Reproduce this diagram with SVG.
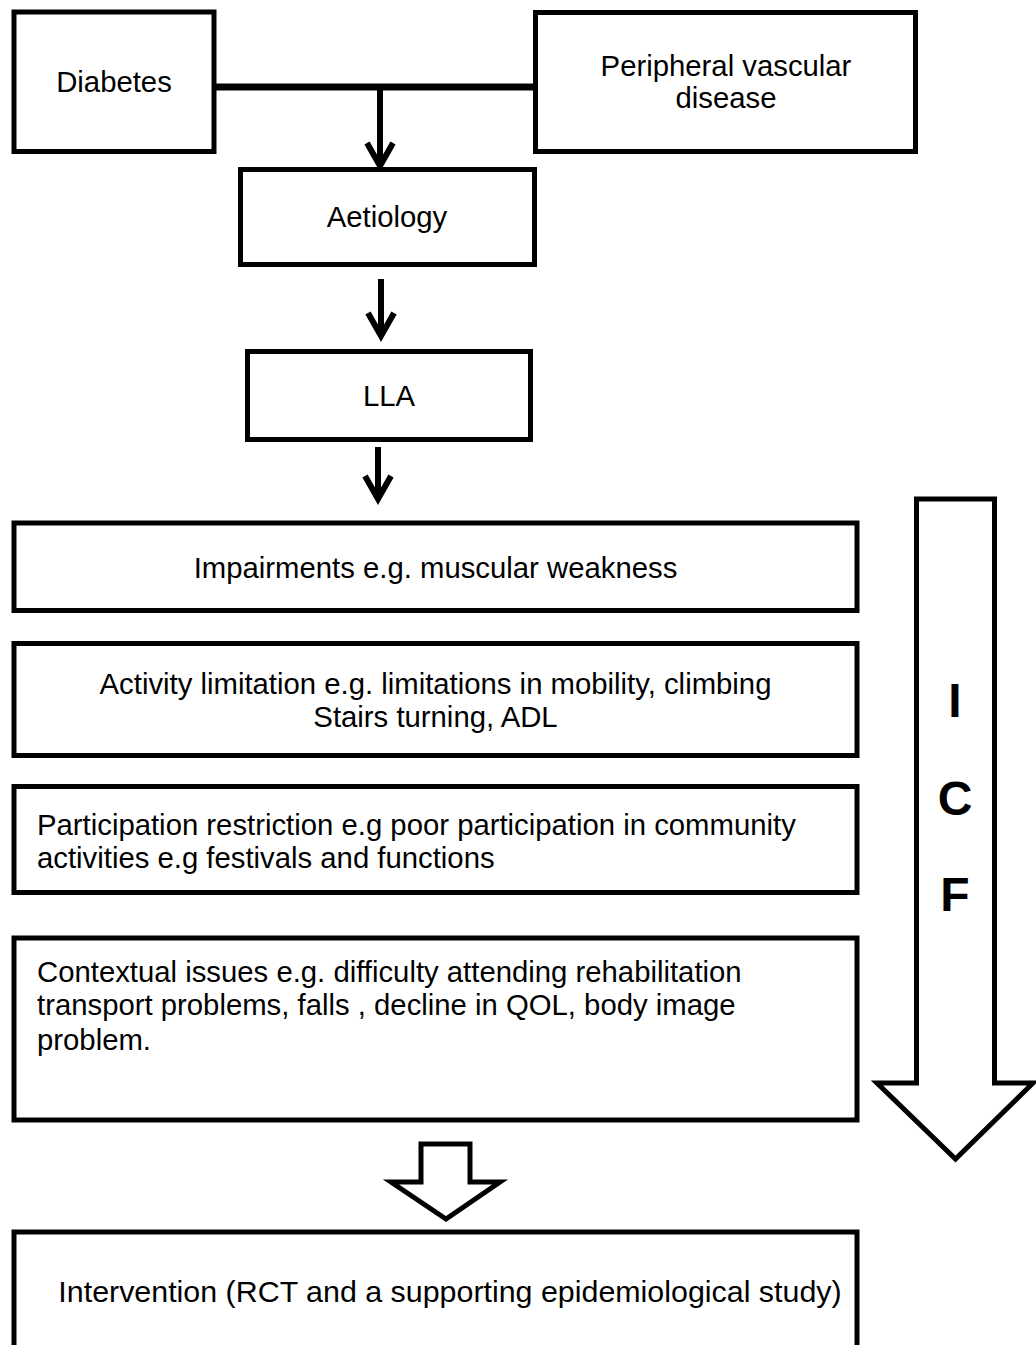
<svg xmlns="http://www.w3.org/2000/svg" width="1036" height="1345" viewBox="0 0 1036 1345">
<style>
.box{fill:#fff;stroke:#000;stroke-width:5}
.t{font-family:"Liberation Sans",Arial,sans-serif;font-size:29.3px;fill:#000}
.c{text-anchor:middle}
.big{font-family:"Liberation Sans",Arial,sans-serif;font-size:48px;font-weight:bold;fill:#000;text-anchor:middle}
.ln{stroke:#000;stroke-width:6;fill:none}
.hollow{fill:#fff;stroke:#000;stroke-width:5;stroke-linejoin:miter}
</style>
<rect width="1036" height="1345" fill="#fff"/>
<g id="connectors">
<line class="ln" x1="214" y1="87" x2="536" y2="87" style="stroke-width:7"/>
<line class="ln" x1="380" y1="87" x2="380" y2="164"/>
<polyline class="ln" points="367,143 380,166 393,143"/>
<line class="ln" x1="381" y1="279" x2="381" y2="335"/>
<polyline class="ln" points="368,313 381,336 394,313"/>
<line class="ln" x1="378" y1="447" x2="378" y2="497"/>
<polyline class="ln" points="365,476 378,499 391,476"/>
<polygon id="hollow-arrow" class="hollow" points="421,1144 470,1144 470,1182 500,1182 446,1219 391,1182 421,1182"/>
</g>
<g id="icf">
<polygon class="hollow" points="916.5,499 994.5,499 994.5,1083 1033,1083 955.5,1159 877,1083 916.5,1083"/>
<text class="big" x="955" y="717">I</text>
<text class="big" x="955" y="815">C</text>
<text class="big" x="955" y="911">F</text>
</g>
<g id="diabetes">
<rect class="box" x="14" y="12" width="200" height="139.5"/>
<text class="t c" x="114" y="92">Diabetes</text>
</g>
<g id="pvd">
<rect class="box" x="535.5" y="12.5" width="380" height="139"/>
<text class="t c" x="726" y="76">Peripheral vascular</text>
<text class="t c" x="726" y="108">disease</text>
</g>
<g id="aetiology">
<rect class="box" x="240.5" y="169.5" width="294" height="95"/>
<text class="t c" x="387" y="227">Aetiology</text>
</g>
<g id="lla">
<rect class="box" x="247.5" y="351.5" width="283" height="88"/>
<text class="t c" x="389" y="406">LLA</text>
</g>
<g id="impairments">
<rect class="box" x="14" y="523" width="843" height="87.5"/>
<text class="t c" x="435.5" y="578">Impairments e.g. muscular weakness</text>
</g>
<g id="activity">
<rect class="box" x="14" y="643.5" width="843" height="112"/>
<text class="t c" x="435.5" y="694">Activity limitation e.g. limitations in mobility, climbing</text>
<text class="t c" x="435.5" y="727">Stairs turning, ADL</text>
</g>
<g id="participation">
<rect class="box" x="14" y="786.5" width="843" height="106"/>
<text class="t" x="37" y="835">Participation restriction e.g poor participation in community</text>
<text class="t" x="37" y="868">activities e.g festivals and functions</text>
</g>
<g id="contextual">
<rect class="box" x="14" y="938" width="843" height="182"/>
<text class="t" x="37" y="982">Contextual issues e.g. difficulty attending rehabilitation</text>
<text class="t" x="37" y="1015">transport problems, falls , decline in QOL, body image</text>
<text class="t" x="37" y="1050">problem.</text>
</g>
<g id="intervention">
<rect class="box" x="14" y="1232" width="843" height="130"/>
<text class="t c" x="450" y="1302" style="font-size:30.4px">Intervention (RCT and a supporting epidemiological study)</text>
</g>
</svg>
